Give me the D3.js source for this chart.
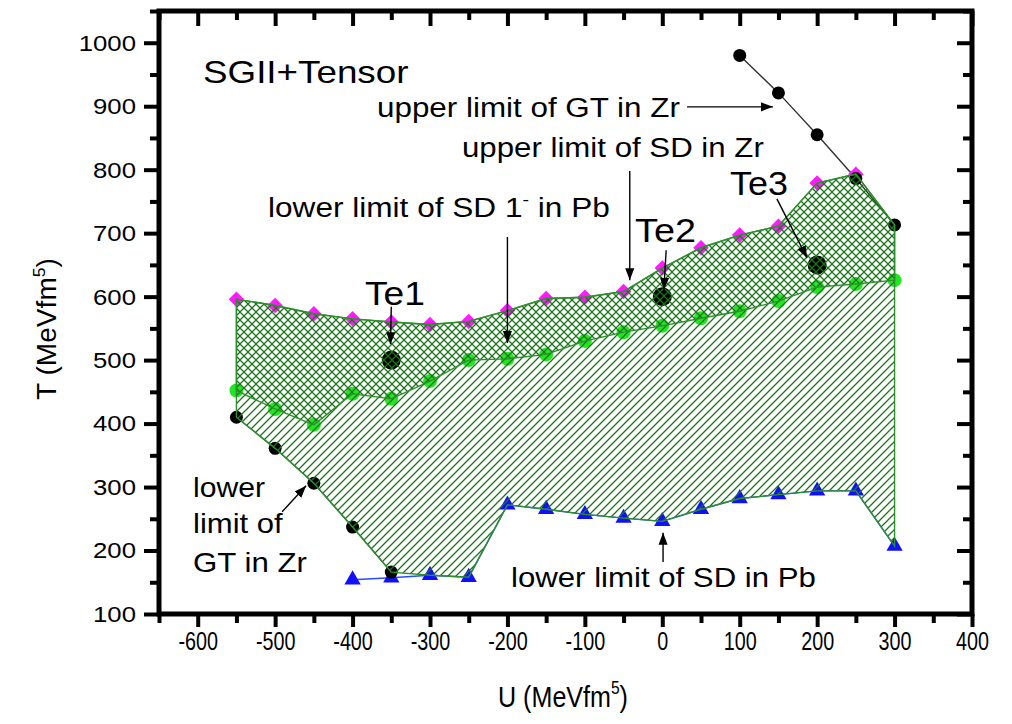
<!DOCTYPE html>
<html>
<head>
<meta charset="utf-8">
<script src="https://cdn.jsdelivr.net/npm/d3@7"></script>
<style>
  html, body { margin: 0; padding: 0; background: #fff; }
  svg { display: block; font-family: "Liberation Sans", Arial, sans-serif; }
</style>
</head>
<body>
<svg id="chart" width="1012" height="724"></svg>
<script>
// ---- data ----
// upper limit of SD in Zr (magenta diamonds)
const uSdZr = [-550, -500, -450, -400, -350, -300, -250, -200, -150, -100, -50, 0, 50, 100, 150, 200, 250];
const tSdZrUpper = [596, 586, 573, 565, 560, 556, 561, 578, 597, 599, 608, 645, 677, 697, 711, 779, 793];

// lower limit of SD 1- in Pb (green circles)
const uSdPb1 = [-550, -500, -450, -400, -350, -300, -250, -200, -150, -100, -50, 0, 50, 100, 150, 200, 250, 300];
const tSdPb1Lower = [452, 423, 398, 447, 439, 467, 500, 502, 509, 530, 544, 554, 566, 577, 593, 615, 620, 626];

// lower limit of GT in Zr (black dots, left)
const uGtLow = [-550, -500, -450, -400, -350];
const tGtLower = [410, 361, 306, 237, 166];

// upper limit of GT in Zr (black dots, right)
const uGtUp = [100, 150, 200, 250, 300];
const tGtUpper = [980, 921, 855, 786, 713];

// lower limit of SD in Pb (blue triangles)
const uSdPb = [-400, -350, -300, -250, -200, -150, -100, -50, 0, 50, 100, 150, 200, 250, 300];
const tSdPbLower = [154, 157, 161, 158, 272, 265, 257, 251, 246, 265, 282, 288, 294, 294, 207];

// parameter sets
const teNames = ["Te1", "Te2", "Te3"];
const teU = [-350, 0, 200];
const teT = [500, 600, 650];

// ticks
const xMajor = [-600, -500, -400, -300, -200, -100, 0, 100, 200, 300, 400];
const xMinor = [-650, -550, -450, -350, -250, -150, -50, 50, 150, 250, 350];
const yMajor = [100, 200, 300, 400, 500, 600, 700, 800, 900, 1000];
const yMinor = [150, 250, 350, 450, 550, 650, 750, 850, 950, 1050];

// arrows, in data units: [from U, from T, to U, to T]
const arrows = [
  [32, 899, 143, 899],
  [-42, 798, -42, 626],
  [-200, 694, -200, 527],
  [-350, 584, -351, 525],
  [5, 673, 2, 611],
  [148, 754, 187, 661],
  [-491, 261, -460, 302],
  [1, 182, 1, 228]
];

// ---- setup ----
const svg = d3.select("#chart");
const box = {left: 159, right: 972, top: 11, bottom: 614};

const x = d3.scaleLinear().domain([-650, 400]).range([box.left, box.right]);
const y = d3.scaleLinear().domain([100, 1050]).range([box.bottom, box.top]);

const HATCH = "#1a741a";
const EDGE = "#2f8f2f";

const defs = svg.append("defs");
// "/" hatch
defs.append("pattern")
  .attr("id", "hatchA").attr("patternUnits", "userSpaceOnUse")
  .attr("width", 8).attr("height", 8)
  .append("path")
  .attr("d", "M-2,2 L2,-2 M0,8 L8,0 M6,10 L10,6")
  .style("stroke", HATCH).style("stroke-width", "1.25px").style("fill", "none");
// "\" hatch
defs.append("pattern")
  .attr("id", "hatchB").attr("patternUnits", "userSpaceOnUse")
  .attr("width", 8).attr("height", 8)
  .append("path")
  .attr("d", "M-2,6 L2,10 M0,0 L8,8 M6,-2 L10,2")
  .style("stroke", HATCH).style("stroke-width", "1.25px").style("fill", "none");
defs.append("marker")
  .attr("id", "head").attr("viewBox", "0 0 10 10")
  .attr("refX", 10).attr("refY", 5)
  .attr("markerWidth", 12).attr("markerHeight", 12)
  .attr("markerUnits", "userSpaceOnUse").attr("orient", "auto")
  .append("path").attr("d", "M0,1.2 L10,5 L0,8.8 z").attr("fill", "#000");

const zip = (us, ts) => us.map((u, i) => [u, ts[i]]);
const line = d3.line().x(d => x(d[0])).y(d => y(d[1]));

// ---- series lines ----
svg.append("path").datum(zip(uGtUp, tGtUpper)).attr("d", line)
  .style("fill", "none").style("stroke", "#333").style("stroke-width", "1.4px");
svg.append("path").datum(zip(uGtLow, tGtLower)).attr("d", line)
  .style("fill", "none").style("stroke", "#555").style("stroke-width", "1.4px");
svg.append("path").datum(zip(uSdPb, tSdPbLower)).attr("d", line)
  .style("fill", "none").style("stroke", "#2a4cff").style("stroke-width", "1.4px");

// ---- markers ----
const sq = d3.symbol().type(d3.symbolSquare).size(120);
svg.append("g").selectAll("path").data(zip(uSdZr, tSdZrUpper)).join("path")
  .attr("d", sq)
  .attr("transform", d => `translate(${x(d[0])},${y(d[1])}) rotate(45)`)
  .attr("fill", "#ff1aff");

svg.append("g").selectAll("circle").data(zip(uSdPb1, tSdPb1Lower)).join("circle")
  .attr("cx", d => x(d[0])).attr("cy", d => y(d[1])).attr("r", 7)
  .attr("fill", "#22e622");

const tri = d3.symbol().type(d3.symbolTriangle).size(115);
svg.append("g").selectAll("path").data(zip(uSdPb, tSdPbLower)).join("path")
  .attr("d", tri)
  .attr("transform", d => `translate(${x(d[0])},${y(d[1])})`)
  .attr("fill", "#1010ff");

svg.append("g").selectAll("circle").data(zip(uGtLow, tGtLower).concat(zip(uGtUp, tGtUpper))).join("circle")
  .attr("cx", d => x(d[0])).attr("cy", d => y(d[1])).attr("r", 6.5)
  .attr("fill", "#000");

svg.append("g").selectAll("circle").data(zip(teU, teT)).join("circle")
  .attr("cx", d => x(d[0])).attr("cy", d => y(d[1])).attr("r", 9.5)
  .attr("fill", "#000");

// ---- hatched regions ----
const upperEdge = zip(uSdZr, tSdZrUpper).concat([[uGtUp[uGtUp.length - 1], tGtUpper[tGtUpper.length - 1]]]);
const greenEdge = zip(uSdPb1, tSdPb1Lower);
const lowerEdge = zip(uGtLow, tGtLower)
  .concat(zip(uSdPb, tSdPbLower).filter(d => d[0] > uGtLow[uGtLow.length - 1]));

const whole = upperEdge.concat(lowerEdge.slice().reverse());
const band = upperEdge.concat(greenEdge.slice().reverse());
const poly = d3.line().x(d => x(d[0])).y(d => y(d[1]));

svg.append("path").attr("d", poly(whole) + "Z")
  .style("fill", "url(#hatchA)").style("stroke", EDGE).style("stroke-width", "1.4px");
svg.append("path").attr("d", poly(band) + "Z")
  .style("fill", "url(#hatchB)").style("stroke", EDGE).style("stroke-width", "1.4px");

// ---- axes ----
function styleAxis(g, size) {
  g.select(".domain").remove();
  g.selectAll(".tick line").style("stroke", "#000").style("stroke-width", "4px");
  g.attr("font-family", null).attr("font-size", size);
  g.selectAll("text").attr("fill", "#000");
}
function stretch(sel, sx) {
  sel.each(function () {
    const t = d3.select(this);
    const x0 = +t.attr("x") || 0;
    t.attr("transform", `translate(${x0 * (1 - sx)},0) scale(${sx},1)`);
  });
}

const gxb = svg.append("g").attr("transform", `translate(0,${box.bottom})`)
  .call(d3.axisBottom(x).tickValues(xMajor).tickSize(13).tickPadding(5).tickFormat(d => String(d)))
  .call(g => styleAxis(g, 26));
stretch(gxb.selectAll("text"), 0.76);
svg.append("g").attr("transform", `translate(0,${box.bottom})`)
  .call(d3.axisBottom(x).tickValues(xMinor).tickSize(9).tickFormat(""))
  .call(g => styleAxis(g, 10));
svg.append("g").attr("transform", `translate(0,${box.top})`)
  .call(d3.axisTop(x).tickValues(xMajor).tickSize(-15).tickFormat(""))
  .call(g => styleAxis(g, 10));
svg.append("g").attr("transform", `translate(0,${box.top})`)
  .call(d3.axisTop(x).tickValues(xMinor).tickSize(-9).tickFormat(""))
  .call(g => styleAxis(g, 10));

const gyl = svg.append("g").attr("transform", `translate(${box.left},0)`)
  .call(d3.axisLeft(y).tickValues(yMajor).tickSize(15).tickPadding(8).tickFormat(d => String(d)))
  .call(g => styleAxis(g, 23));
stretch(gyl.selectAll("text"), 1.12);
svg.append("g").attr("transform", `translate(${box.left},0)`)
  .call(d3.axisLeft(y).tickValues(yMinor).tickSize(9).tickFormat(""))
  .call(g => styleAxis(g, 10));
svg.append("g").attr("transform", `translate(${box.right},0)`)
  .call(d3.axisRight(y).tickValues(yMajor).tickSize(-15).tickFormat(""))
  .call(g => styleAxis(g, 10));
svg.append("g").attr("transform", `translate(${box.right},0)`)
  .call(d3.axisRight(y).tickValues(yMinor).tickSize(-9).tickFormat(""))
  .call(g => styleAxis(g, 10));

// frame
svg.append("rect")
  .attr("x", box.left).attr("y", box.top)
  .attr("width", box.right - box.left).attr("height", box.bottom - box.top)
  .style("fill", "none").style("stroke", "#000").style("stroke-width", "5px");

// ---- arrows ----
svg.append("g").selectAll("line").data(arrows).join("line")
  .attr("x1", d => x(d[0])).attr("y1", d => y(d[1]))
  .attr("x2", d => x(d[2])).attr("y2", d => y(d[3]))
  .style("stroke", "#000").style("stroke-width", "1.4px")
  .attr("marker-end", "url(#head)");

// ---- text ----
// parts: array of [string, isSuperscript]
function label(parts, px, py, size, width, anchor) {
  const t = svg.append("text")
    .attr("x", px).attr("y", py)
    .attr("font-size", size)
    .attr("text-anchor", anchor || "start")
    .attr("fill", "#000");
  let up = false;
  parts.forEach(p => {
    const s = t.append("tspan").text(p[0]);
    if (p[1]) { s.attr("font-size", size * 0.62).attr("dy", -size * 0.42); up = true; }
    else if (up) { s.attr("dy", size * 0.42); up = false; }
  });
  const w = t.node().getBBox().width;
  stretch(t, width / w);
  return t;
}

label([["SGII+Tensor"]], 203, 83, 32, 206);
label([["upper limit of GT in Zr"]], 377, 117, 28, 303);
label([["upper limit of SD in Zr"]], 462, 157, 28, 302);
label([["lower limit of SD 1"], ["-", true], [" in Pb"]], 268, 217, 28, 342);
label([[teNames[0]]], 365, 305, 34, 60);
label([[teNames[1]]], 635, 242, 34, 61);
label([[teNames[2]]], 730, 195, 34, 58);
label([["lower"]], 193, 497, 28, 72);
label([["limit of"]], 193, 533, 28, 90);
label([["GT in Zr"]], 193, 572, 28, 114);
label([["lower limit of SD in Pb"]], 511, 587, 28, 305);

// axis titles
label([["U (MeVfm"], ["5", true], [")"]], 563, 707, 30, 130, "middle");

const yt = svg.append("g").attr("transform", "translate(56,329) rotate(-90)");
const ytText = yt.append("text").attr("x", 0).attr("y", 0)
  .attr("font-size", 27).attr("text-anchor", "middle").attr("fill", "#000");
ytText.append("tspan").text("T (MeVfm");
ytText.append("tspan").text("5").attr("font-size", 17).attr("dy", -11);
ytText.append("tspan").text(")").attr("dy", 11);
stretch(ytText, 142 / ytText.node().getBBox().width);
</script>
</body>
</html>
